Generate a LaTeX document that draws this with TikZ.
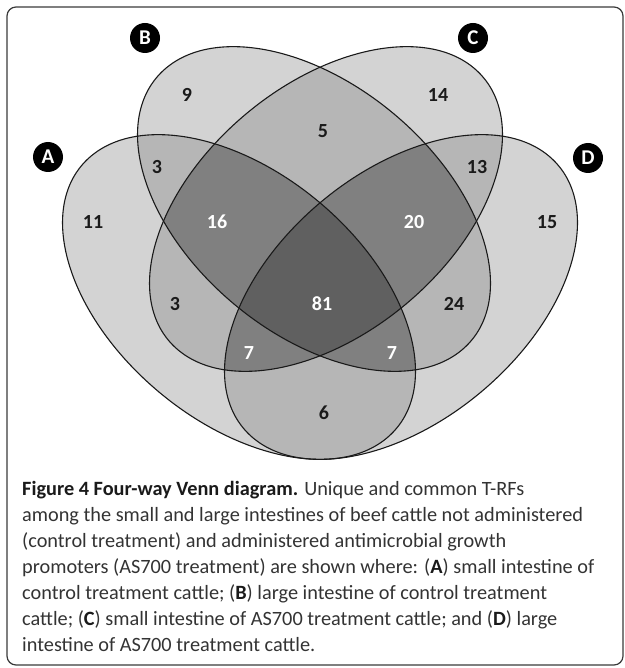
\documentclass[tikz,border=0pt]{standalone}
\usepackage{fontspec}
\setmainfont{Carlito}
\usepackage{tikz}
\usetikzlibrary{positioning}
\usepackage{xcolor}
\definecolor{one}{HTML}{D3D3D3}
\definecolor{two}{HTML}{B6B6B6}
\definecolor{three}{HTML}{808080}
\definecolor{four}{HTML}{606060}
\definecolor{ink}{HTML}{1A1A1A}
\definecolor{soft}{HTML}{333333}
\definecolor{rim}{HTML}{3A3A3A}

% one set = the same ellipse, moved and turned
\def\venn{(0,0) ellipse (213 and 130)}
\newcommand{\capbf}[1]{\textcolor{ink}{\textbf{#1}}}
\tikzset{
  setA/.style={shift={(239,297)},yscale=.92,rotate=-45},
  setB/.style={shift={(314,209)},yscale=.92,rotate=-45},
  setC/.style={shift={(326,209)},yscale=.92,rotate=45},
  setD/.style={shift={(401,297)},yscale=.92,rotate=45},
  num/.style={font=\bfseries\fontsize{20}{20}\selectfont,text=ink,inner sep=0pt},
  wnum/.style={num,text=white},
  setlabel/.style={circle,fill=black,text=white,minimum size=30pt,inner sep=0pt,
    font=\bfseries\fontsize{21}{21}\selectfont}
}

\begin{document}
\begin{tikzpicture}[x=1pt,y=-1pt]
\useasboundingbox (0,0) rectangle (624,668);
\draw[rim,line width=1.2pt,rounded corners=9pt] (7,7) rectangle (623,665);
% fills: one, two, three and four sets
\foreach \s in {setA,setB,setC,setD} \fill[one,\s] \venn;
\foreach \p/\q in {setA/setB,setA/setC,setA/setD,setB/setC,setB/setD,setC/setD}{
  \begin{scope}
    \clip[\p] \venn;
    \fill[two,\q] \venn;
  \end{scope}}
\foreach \p/\q/\r in {setA/setB/setC,setA/setB/setD,setA/setC/setD,setB/setC/setD}{
  \begin{scope}
    \clip[\p] \venn; \clip[\q] \venn;
    \fill[three,\r] \venn;
  \end{scope}}
\begin{scope}
  \clip[setA] \venn; \clip[setB] \venn; \clip[setC] \venn;
  \fill[four,setD] \venn;
\end{scope}
% outlines
\foreach \s in {setA,setB,setC,setD} \draw[ink,line width=1.1pt,\s] \venn;
% set labels
\node[setlabel] (labA) at (48,157) {A};
\node[setlabel] (labB) at (145,38) {B};
\node[setlabel] (labC) at (473,38) {C};
\node[setlabel] (labD) at (588,158) {D};
% counts
\node[num] (nA) at (93,222) {11};
\node[num] (nB) at (187,95) {9};
\node[num] (nC) at (438,95) {14};
\node[num] (nD) at (547,222) {15};
\node[num] (nAB) at (157,167) {3};
\node[num] (nBC) at (323,131) {5};
\node[num] (nCD) at (477,167) {13};
\node[wnum] (nABC) at (217,222) {16};
\node[wnum] (nBCD) at (414,222) {20};
\node[num] (nAC) at (175,304) {3};
\node[wnum] (nABCD) at (322,304) {81};
\node[num] (nBD) at (454,304) {24};
\node[wnum] (nACD) at (249,353) {7};
\node[wnum] (nABD) at (392,353) {7};
\node[num] (nAD) at (324,413) {6};
% caption, placed by the baseline of its last line
\node[anchor=base west,align=left,inner sep=0pt,text=soft,
  font=\fontsize{20.3}{26}\selectfont] (cap) at (22,651)
  {\capbf{Figure 4 Four-way Venn diagram.} Unique and common T-RFs\\
   among the small and large intestines of beef cattle not administered\\
   (control treatment) and administered antimicrobial growth\\
   promoters (AS700 treatment) are shown where: (\capbf{A}) small intestine of\\
   control treatment cattle; (\capbf{B}) large intestine of control treatment\\
   cattle; (\capbf{C}) small intestine of AS700 treatment cattle; and (\capbf{D}) large\\
   intestine of AS700 treatment cattle.};
\end{tikzpicture}
\end{document}
